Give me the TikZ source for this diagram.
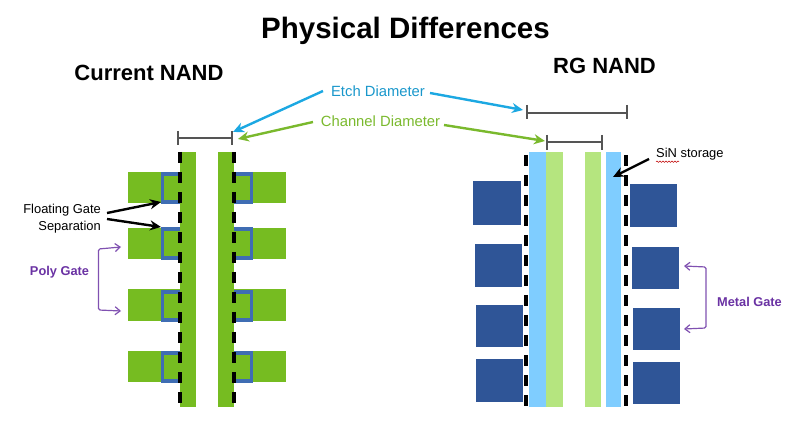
\documentclass[tikz,border=0pt]{standalone}
\usepackage{fontspec}
\setmainfont{Liberation Sans}
\usetikzlibrary{arrows.meta,decorations.pathmorphing}
\definecolor{chgreen}{HTML}{76BC21}
\definecolor{lightgr}{HTML}{B5E57F}
\definecolor{sinblue}{HTML}{7FCDFF}
\definecolor{metal}{HTML}{2F5597}
\definecolor{fgblue}{HTML}{3F6DB3}
\definecolor{etch}{HTML}{1CA8E2}
\definecolor{chan}{HTML}{7AB92D}
\definecolor{gatepurple}{HTML}{6A32A3}
\definecolor{dim}{HTML}{555555}
\tikzset{
  x=1pt,y=-1pt,
  lbl/.style={inner sep=0pt,anchor=center,align=center},
  title/.style={lbl,font=\bfseries\fontsize{29.5}{32}\selectfont},
  head/.style={lbl,font=\bfseries\fontsize{22}{24}\selectfont},
  small/.style={lbl,font=\fontsize{14.8}{17}\selectfont},
  gatelbl/.style={lbl,font=\bfseries\fontsize{12.8}{14}\selectfont,text=gatepurple},
  cutline/.style={black,line width=3.4pt,dash pattern=on 11pt off 9pt},
  dimline/.style={dim,line width=1.3pt},
  callout/.style={line width=2.4pt,-{Stealth[length=11pt,width=10pt]}},
  blackcall/.style={black,line width=2.4pt,-{Stealth[length=11pt,width=10pt]}},
  bracket/.style={gatepurple!85,line width=1.2pt,rounded corners=1.5pt,{Straight Barb[length=5pt,width=8pt]}-{Straight Barb[length=5pt,width=8pt]}},
  ushell/.style={fgblue,line width=3.6pt},
}
\begin{document}
\begin{tikzpicture}
\useasboundingbox (0,0) rectangle (800,427);

% Poly gates and floating gate shells
\foreach \t/\b in {172/203,228/259,289/321,351/382}{
  \fill[chgreen] (128,\t) rectangle (180,\b);
  \fill[chgreen] (234,\t) rectangle (286,\b);
}
\foreach \t/\b in {174/202,229/258,292/320,353/381}{
  \draw[ushell] (180,\t) -- (162.5,\t) -- (162.5,\b) -- (180,\b);
  \draw[ushell] (234,\t) -- (251.5,\t) -- (251.5,\b) -- (234,\b);
}
% Channel of the floating gate string
\fill[chgreen] (180,152) rectangle (196,407);
\fill[chgreen] (218,152) rectangle (234,407);
\draw[cutline] (180,152) -- (180,407);
\draw[cutline] (234,152) -- (234,407);

% Replacement gate string
\fill[sinblue] (529,152) rectangle (546,407);
\fill[lightgr] (546,152) rectangle (563,407);
\fill[lightgr] (585,152) rectangle (601,407);
\fill[sinblue] (606,152) rectangle (621,407);
\draw[cutline] (526,155) -- (526,407);
\draw[cutline] (626,155) -- (626,407);
\foreach \xa/\ya/\xb/\yb in {473/181/521/225,475/244/522/287,476/305/523/347,476/359/523/402,
                             630/184/677/227,632/247/679/289,633/308/680/350,633/362/680/404}{
  \fill[metal] (\xa,\ya) rectangle (\xb,\yb);
}

% Dimension bars
\draw[dimline] (178,131) -- (178,145) (178,138) -- (232,138) (232,131) -- (232,145);
\draw[dimline] (527,105) -- (527,119) (527,113) -- (627,113) (627,105) -- (627,119);
\draw[dimline] (547,135) -- (547,150) (547,142) -- (602,142) (602,135) -- (602,150);

% Labels
\node[title] (ttl) at (405.5,31) {Physical Differences};
\node[head] (cur) at (149,73) {Current NAND};
\node[head] (rg) at (604.5,66) {RG NAND};
\node[small,text=etch!90!black] (etchl) at (378,91) {Etch Diameter};
\node[small,text=chan] (chanl) at (380.5,121) {Channel Diameter};
\node[lbl,font=\fontsize{12.9}{17}\selectfont,align=right,anchor=east] (fg) at (101,219) {Floating Gate\\Separation};
\node[lbl,font=\fontsize{12.9}{14}\selectfont,anchor=west] (sin) at (656,154) {SiN storage};
\node[gatelbl] (poly) at (59.5,272) {Poly Gate};
\node[gatelbl] (mtl) at (749.5,302) {Metal Gate};
\draw[red!75!black,line width=0.5pt,decorate,decoration={snake,amplitude=0.7pt,segment length=3pt}]
  (sin.south west) ++(0,1.5) -- ++(23,0);

% Callout end points
\coordinate (etchA) at (323,91);
\coordinate (etchB) at (233,132);
\coordinate (etchC) at (430,93);
\coordinate (etchD) at (523,110);
\coordinate (chanA) at (313,122);
\coordinate (chanB) at (238,139);
\coordinate (chanC) at (444,125);
\coordinate (chanD) at (545,141);
\coordinate (fgA) at (107,213);
\coordinate (fgB) at (161,202);
\coordinate (fgC) at (107,219);
\coordinate (fgD) at (161,227);
\coordinate (sinA) at (649,159);
\coordinate (sinB) at (613,177);

\draw[callout,etch] (etchA) -- (etchB);
\draw[callout,etch] (etchC) -- (etchD);
\draw[callout,chan] (chanA) -- (chanB);
\draw[callout,chan] (chanC) -- (chanD);
\draw[blackcall] (fgA) -- (fgB);
\draw[blackcall] (fgC) -- (fgD);
\draw[blackcall] (sinA) -- (sinB);

% Gate brackets
\coordinate (pgA) at (121,247);
\coordinate (pgB) at (98.5,249);
\coordinate (pgC) at (98.5,310);
\coordinate (pgD) at (121,311);
\draw[bracket] (pgA) -- (pgB) -- (pgC) -- (pgD);
\coordinate (mgA) at (684,266);
\coordinate (mgB) at (706,267);
\coordinate (mgC) at (706,328);
\coordinate (mgD) at (684,329);
\draw[bracket] (mgA) -- (mgB) -- (mgC) -- (mgD);
\end{tikzpicture}
\end{document}
